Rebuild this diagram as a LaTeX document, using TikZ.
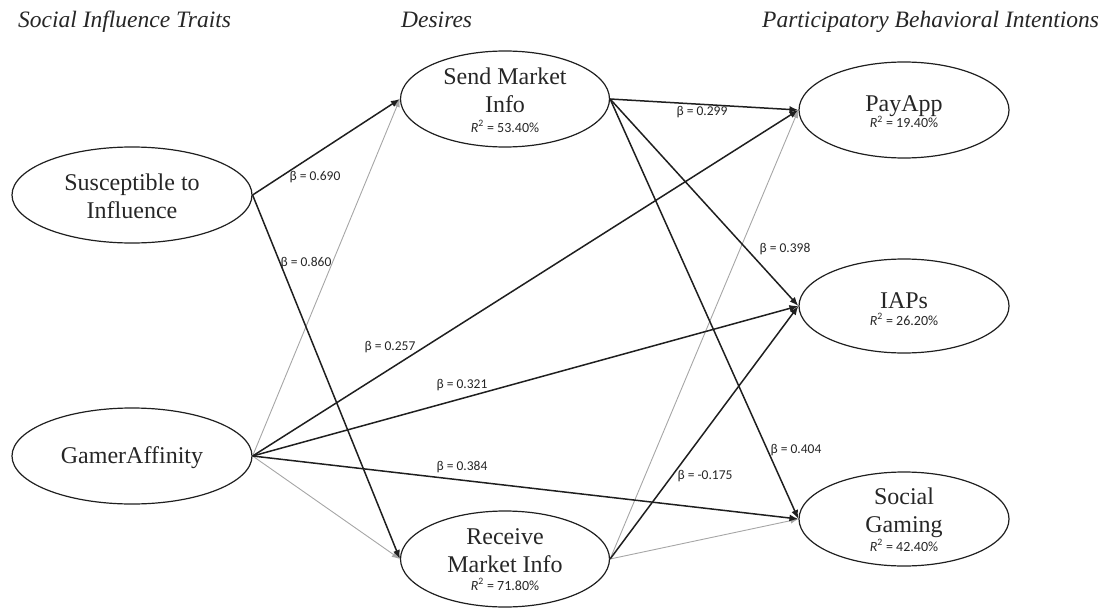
\documentclass[tikz,border=0pt]{standalone}
\usepackage{fontspec}
\setmainfont{Liberation Serif}
\newfontfamily\lblfont{Carlito}
\usetikzlibrary{arrows.meta,shapes.geometric}
\tikzset{
  latent/.style={draw=black!88, line width=1.2pt, ellipse, inner sep=0pt, minimum width=209pt, minimum height=96pt},
  nodetext/.style={inner sep=0pt, anchor=base, font=\fontsize{24}{28}\selectfont, text=black!85},
  rsq/.style={inner sep=0pt, anchor=base, font=\lblfont\fontsize{14}{16}\selectfont, text=black!85},
  heading/.style={inner sep=0pt, anchor=base west, font=\itshape\fontsize{23.5}{28}\selectfont, text=black!85},
  beta/.style={inner sep=0pt, font=\lblfont\fontsize{13.5}{16}\selectfont, text=black!85},
  strong/.style={draw=black!88, line width=1.5pt, -{Latex[length=9pt,width=7pt]}},
  weak/.style={draw=black!35, line width=0.9pt, -{Latex[length=8pt,width=6pt]}}
}
\newcommand{\rsqtext}[1]{{\itshape R}\textsuperscript{2} = #1}
\begin{document}
\begin{tikzpicture}[x=1pt,y=-1pt]
\useasboundingbox (0,0) rectangle (1115,607);
% headings
\node[heading] (h1) at (18,28) {Social Influence Traits};
\node[heading] (h2) at (401,28) {Desires};
\node[heading] (h3) at (762,28) {Participatory Behavioral Intentions};
% ellipses
\node[latent, minimum width=240pt] (sus) at (132,195) {};
\node[latent, minimum width=240pt] (ga) at (132,456) {};
\node[latent] (send) at (505,99) {};
\node[latent] (recv) at (505,559) {};
\node[latent, minimum width=210pt, minimum height=96pt] (pay) at (904,110) {};
\node[latent, minimum width=210pt, minimum height=94pt] (iap) at (904,306) {};
\node[latent, minimum width=210pt, minimum height=94pt] (soc) at (904,519) {};
% texts
\node[nodetext] (sus1) at (132,190) {Susceptible to};
\node[nodetext] (sus2) at (132,218) {Influence};
\node[nodetext] (ga1) at (132,463) {GamerAffinity};
\node[nodetext] (send1) at (505,85) {Send Market};
\node[nodetext] (send2) at (505,113) {Info};
\node[rsq] (send3) at (505,132) {\rsqtext{53.40\%}};
\node[nodetext] (recv1) at (505,544) {Receive};
\node[nodetext] (recv2) at (505,572) {Market Info};
\node[rsq] (recv3) at (505,590) {\rsqtext{71.80\%}};
\node[nodetext] (pay1) at (904,111) {PayApp};
\node[rsq] (pay2) at (904,128) {\rsqtext{19.40\%}};
\node[nodetext] (iap1) at (904,308) {IAPs};
\node[rsq] (iap2) at (904,325) {\rsqtext{26.20\%}};
\node[nodetext] (soc1) at (904,504) {Social};
\node[nodetext] (soc2) at (904,532) {Gaming};
\node[rsq] (soc3) at (904,551) {\rsqtext{42.40\%}};
% weak paths
\draw[weak] (ga.east) -- (send.west);
\draw[weak] (ga.east) -- (recv.west);
\draw[weak] (recv.east) -- (pay.west);
\draw[weak] (recv.east) -- (soc.west);
% strong paths
\draw[strong] (sus.east) -- (send.west);
\draw[strong] (sus.east) -- (recv.west);
\draw[strong] (ga.east) -- (pay.west);
\draw[strong] (ga.east) -- (iap.west);
\draw[strong] (ga.east) -- (soc.west);
\draw[strong] (send.east) -- (pay.west);
\draw[strong] (send.east) -- (iap.west);
\draw[strong] (send.east) -- (soc.west);
\draw[strong] (recv.east) -- (iap.west);
% beta labels
\node[beta] (b1) at (315,177) {β = 0.690};
\node[beta] (b2) at (306,263) {β = 0.860};
\node[beta] (b3) at (390,347) {β = 0.257};
\node[beta] (b4) at (462,385) {β = 0.321};
\node[beta] (b5) at (462,467) {β = 0.384};
\node[beta] (b6) at (702,112) {β = 0.299};
\node[beta] (b7) at (785,249) {β = 0.398};
\node[beta] (b8) at (796,450) {β = 0.404};
\node[beta] (b9) at (705,476) {β = -0.175};
\end{tikzpicture}
\end{document}
